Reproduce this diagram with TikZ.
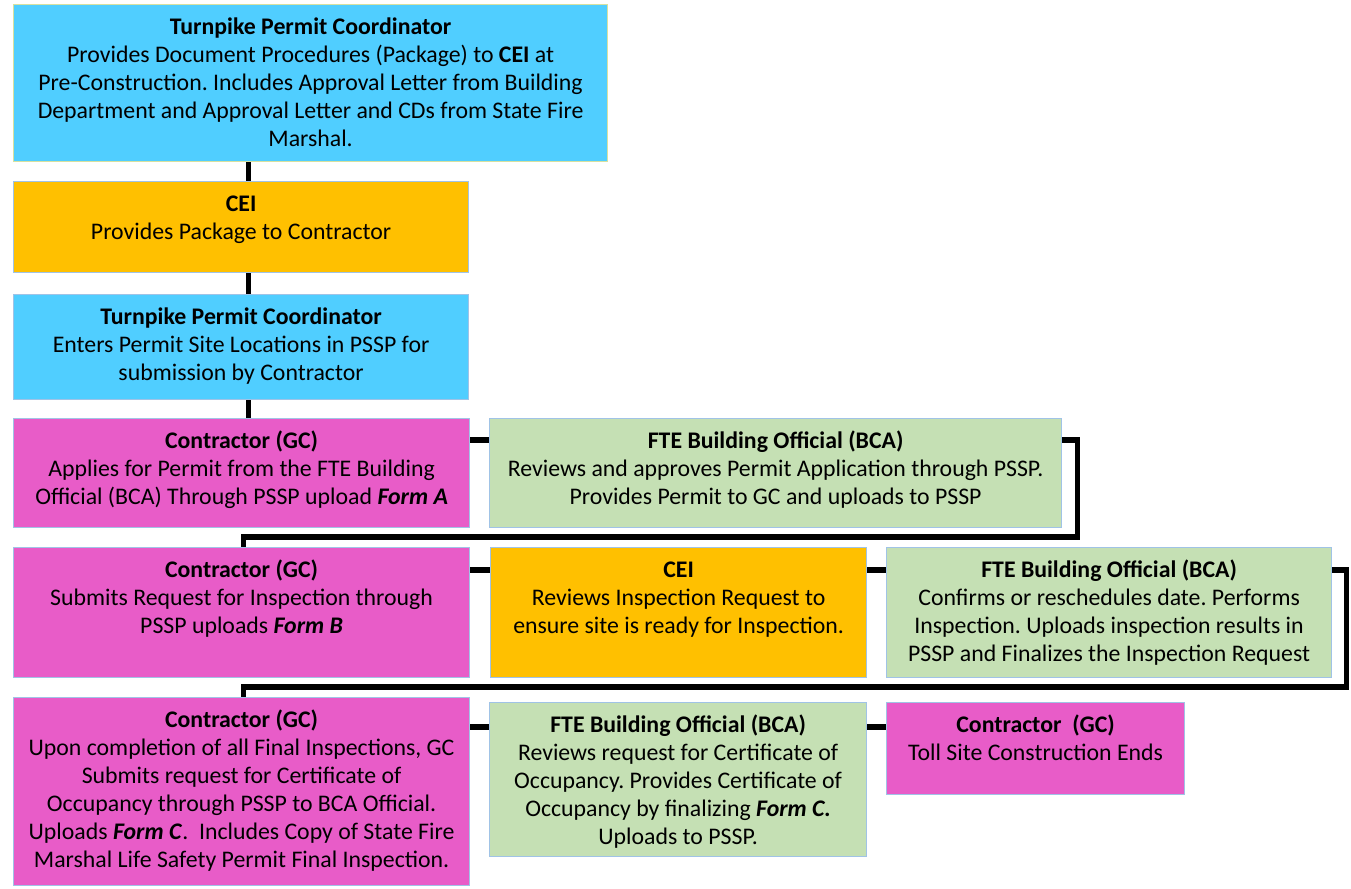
\documentclass[tikz,border=0pt]{standalone}
\usepackage{fontspec}
\setmainfont{Carlito}
\frenchspacing
\definecolor{cblue}{RGB}{80,206,255}
\definecolor{corange}{RGB}{255,192,0}
\definecolor{cmag}{RGB}{232,92,200}
\definecolor{cgreen}{RGB}{197,224,180}
\definecolor{cedge}{RGB}{160,195,230}
\definecolor{cedgey}{RGB}{215,225,160}
\newcommand{\flowbox}[7]{%
  \node[fbox, #6, anchor=north west] (#1) at (#2,#3)
    {\parbox[c][\dimexpr#5pt/2\relax][t]{\dimexpr#4pt/2\relax}{\centering\vspace*{5pt}\strut#7}};}
\begin{document}
\begin{tikzpicture}[x=0.5pt,y=-0.5pt,
  fbox/.style={draw=cedge, line width=0.6pt, inner sep=0pt, font=\fontsize{11.9}{14}\selectfont},
  conn/.style={draw=black, line width=2.6pt, line join=miter}]
\useasboundingbox (0,0) rectangle (1351,889);
\flowbox{b1}{13}{4}{594}{157}{fill=cblue, draw=cedgey}{\textbf{Turnpike Permit Coordinator}\\Provides Document Procedures (Package) to \textbf{CEI} at\\Pre-Construction. Includes Approval Letter from Building\\Department and Approval Letter and CDs from State Fire\\Marshal.}
\flowbox{b2}{13}{181}{455}{91}{fill=corange}{\textbf{CEI}\\Provides Package to Contractor}
\flowbox{b3}{13}{294}{455}{105}{fill=cblue}{\textbf{Turnpike Permit Coordinator}\\Enters Permit Site Locations in PSSP for\\submission by Contractor}
\flowbox{b4}{13}{418}{456}{109}{fill=cmag}{\textbf{Contractor (GC)}\\Applies for Permit from the FTE Building\\Official (BCA) Through PSSP upload \textbf{\textit{Form A}}}
\flowbox{b5}{489}{418}{572}{109}{fill=cgreen}{\textbf{FTE Building Official (BCA)}\\Reviews and approves Permit Application through PSSP.\\Provides Permit to GC and uploads to PSSP}
\flowbox{b6}{13}{547}{456}{130}{fill=cmag}{\textbf{Contractor (GC)}\\Submits Request for Inspection through\\PSSP uploads \textbf{\textit{Form B}}}
\flowbox{b7}{490}{547}{376}{130}{fill=corange}{\textbf{CEI}\\Reviews Inspection Request to\\ensure site is ready for Inspection.}
\flowbox{b8}{886}{547}{445}{130}{fill=cgreen}{\textbf{FTE Building Official (BCA)}\\Confirms or reschedules date. Performs\\Inspection. Uploads inspection results in\\PSSP and Finalizes the Inspection Request}
\flowbox{b9}{13}{697}{456}{188}{fill=cmag}{\textbf{Contractor (GC)}\\Upon completion of all Final Inspections, GC\\Submits request for Certificate of\\Occupancy through PSSP to BCA Official.\\Uploads \textbf{\textit{Form C}}.\ \ Includes Copy of State Fire\\Marshal Life Safety Permit Final Inspection.}
\flowbox{b10}{489}{702}{377}{154}{fill=cgreen}{\textbf{FTE Building Official (BCA)}\\Reviews request for Certificate of\\Occupancy. Provides Certificate of\\Occupancy by finalizing \textbf{\textit{Form C.}}\\Uploads to PSSP.}
\flowbox{b11}{886}{702}{298}{92}{fill=cmag}{\textbf{Contractor\ \ (GC)}\\Toll Site Construction Ends}
% vertical chain
\draw[conn] ([xshift=3.5pt]b2.north |- b1.south) -- ([xshift=3.5pt]b2.north);
\draw[conn] ([xshift=3.5pt]b2.south) -- ([xshift=3.5pt]b2.south |- b3.north);
\draw[conn] ([xshift=3.5pt]b3.south) -- ([xshift=3.5pt]b3.south |- b4.north);
% row 1
\draw[conn] ([yshift=-11pt]b4.north east) -- ([yshift=-11pt]b4.north east -| b5.west);
\draw[conn] ([yshift=-11pt]b5.north east) -- ++(15,0) |- ([yshift=5pt,xshift=1pt]b6.north) -- ([xshift=1pt]b6.north);
% row 2
\draw[conn] ([yshift=-11.5pt]b6.north east) -- ([yshift=-11.5pt]b6.north east -| b7.west);
\draw[conn] ([yshift=-11.5pt]b7.north east) -- ([yshift=-11.5pt]b7.north east -| b8.west);
\draw[conn] ([yshift=-11.5pt]b8.north east) -- ++(14,0) |- ([yshift=5pt,xshift=1pt]b9.north) -- ([xshift=1pt]b9.north);
% row 3
\draw[conn] ([yshift=-12.5pt]b10.north west -| b9.east) -- ([yshift=-12.5pt]b10.north west);
\draw[conn] ([yshift=-12.5pt]b10.north east) -- ([yshift=-12.5pt]b10.north east -| b11.west);
\end{tikzpicture}
\end{document}
